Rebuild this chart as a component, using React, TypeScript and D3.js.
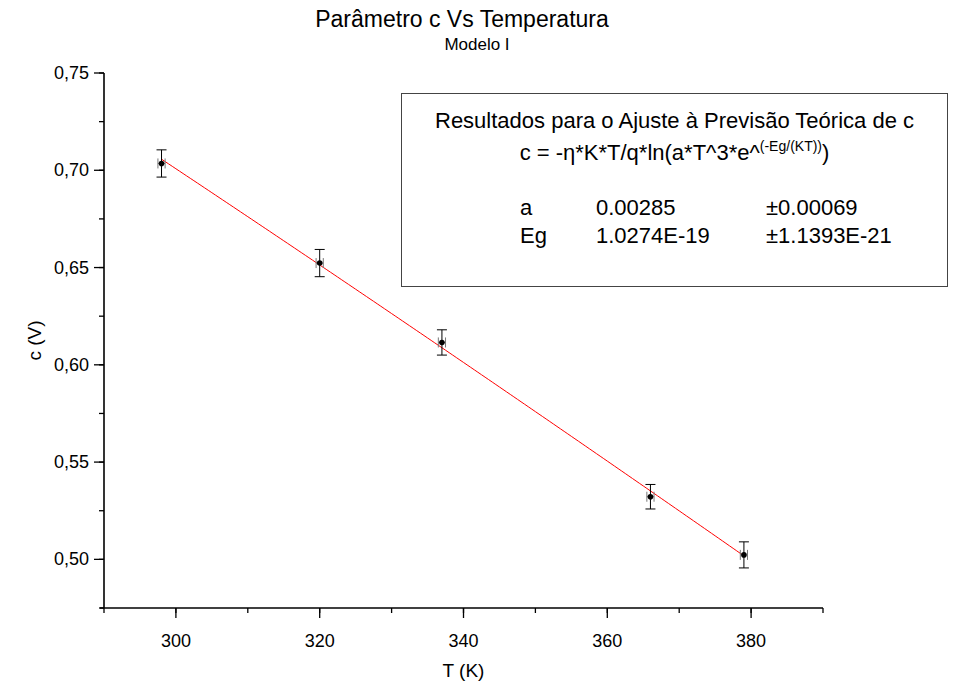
import React from "react";
import * as d3 from "d3";

// Measured points: temperature (K) and parameter c (V) with uncertainties
const temperatures = [298, 320, 337, 366, 379];
const cValues = [0.7035, 0.6523, 0.6115, 0.5322, 0.5023];
const cErrors = [0.007, 0.007, 0.0065, 0.0063, 0.0067];
const tErrors = [0.5, 0.5, 0.5, 0.5, 0.5];

// Fit results shown in the results box
const fitParamNames = ["a", "Eg"];
const fitParamValues = ["0.00285", "1.0274E-19"];
const fitParamErrors = ["±0.00069", "±1.1393E-21"];
const fitA = 0.00285;
const fitEg = 1.0274e-19;
const eta = 2;
const kBoltzmann = 1.380649e-23;
const qCharge = 1.602177e-19;

const xTicks = [300, 320, 340, 360, 380];
const yTicks = [0.5, 0.55, 0.6, 0.65, 0.7, 0.75];

const W = 960;
const H = 692;
const FONT = "'Liberation Sans', Arial, Helvetica, sans-serif";

// c = -η*K*T/q*ln(a*T^3*e^(-Eg/(KT)))
const fitModel = (T: number) =>
  ((-eta * kBoltzmann * T) / qCharge) *
  Math.log(fitA * T ** 3 * Math.exp(-fitEg / (kBoltzmann * T)));

export default function App() {
  const x = d3.scaleLinear().domain([290, 390]).range([104, 823]);
  const y = d3.scaleLinear().domain([0.475, 0.75]).range([608, 73]);

  const xMinor = d3.range(290, 391, 10);
  const yMinor = d3.range(0, 12).map((i) => 0.475 + i * 0.025);

  const fitT = d3.range(temperatures[0], temperatures[temperatures.length - 1] + 0.001, 0.5);
  const fitLine = d3
    .line<number>()
    .x((t) => x(t))
    .y((t) => y(fitModel(t)))(fitT);

  const fmtY = (v: number) => v.toFixed(2).replace(".", ",");
  const x0 = x.range()[0];
  const y0 = y.range()[0];

  const boxX = 401.5;
  const boxW = 546;
  const boxCx = boxX + boxW / 2;
  const legendSize = 22;

  return (
    <svg
      width={W}
      height={H}
      style={{ position: "absolute", left: 0, top: 0, background: "#fff" }}
      fontFamily={FONT}
    >
      <rect width={W} height={H} fill="#fff" />
      {/* titles */}
      <text x={462} y={27} textAnchor="middle" fontSize={23}>
        Parâmetro c Vs Temperatura
      </text>
      <text x={477} y={50} textAnchor="middle" fontSize={17}>
        Modelo I
      </text>

      {/* y axis */}
      <line x1={x0} x2={x0} y1={y(0.75)} y2={y0} stroke="#000" strokeWidth={1.6} />
      {yMinor.map((v) => (
        <line key={"ym" + v} x1={x0 - 5} x2={x0} y1={y(v)} y2={y(v)} stroke="#000" strokeWidth={1.3} />
      ))}
      {yTicks.map((v) => (
        <g key={"y" + v}>
          <line x1={x0 - 10} x2={x0} y1={y(v)} y2={y(v)} stroke="#000" strokeWidth={1.3} />
          <text x={x0 - 15} y={y(v) + 6} textAnchor="end" fontSize={18}>
            {fmtY(v)}
          </text>
        </g>
      ))}
      <text
        transform={`translate(41,${(y(0.75) + y0) / 2}) rotate(-90)`}
        textAnchor="middle"
        fontSize={19}
      >
        c (V)
      </text>

      {/* x axis */}
      <line x1={x0 - 4} x2={x.range()[1]} y1={y0} y2={y0} stroke="#000" strokeWidth={1.6} />
      {xMinor.map((v) => (
        <line key={"xm" + v} x1={x(v)} x2={x(v)} y1={y0} y2={y0 + 5} stroke="#000" strokeWidth={1.3} />
      ))}
      {xTicks.map((v) => (
        <g key={"x" + v}>
          <line x1={x(v)} x2={x(v)} y1={y0} y2={y0 + 10} stroke="#000" strokeWidth={1.3} />
          <text x={x(v)} y={y0 + 39} textAnchor="middle" fontSize={18}>
            {v}
          </text>
        </g>
      ))}
      <text x={(x0 + x.range()[1]) / 2} y={677} textAnchor="middle" fontSize={19}>
        T (K)
      </text>

      {/* fit curve */}
      <path d={fitLine ?? ""} fill="none" stroke="#ff0000" strokeWidth={1} />

      {/* data points with error bars */}
      {temperatures.map((t, i) => {
        const px = x(t);
        const py = y(cValues[i]);
        const yt = y(cValues[i] + cErrors[i]);
        const yb = y(cValues[i] - cErrors[i]);
        const xl = x(t - tErrors[i]);
        const xr = x(t + tErrors[i]);
        return (
          <g key={"p" + i}>
            <line x1={xl} x2={xr} y1={py} y2={py} stroke="#777" strokeWidth={1} />
            <line x1={xl} x2={xl} y1={py - 5} y2={py + 5} stroke="#777" strokeWidth={1} />
            <line x1={xr} x2={xr} y1={py - 5} y2={py + 5} stroke="#777" strokeWidth={1} />
            <line x1={px} x2={px} y1={yt} y2={yb} stroke="#000" strokeWidth={1} />
            <line x1={px - 5} x2={px + 5} y1={yt} y2={yt} stroke="#000" strokeWidth={1} />
            <line x1={px - 5} x2={px + 5} y1={yb} y2={yb} stroke="#000" strokeWidth={1} />
            <circle cx={px} cy={py} r={2.8} fill="#000" />
          </g>
        );
      })}

      {/* results box */}
      <rect x={boxX} y={93.5} width={boxW} height={193} fill="#fff" stroke="#444" strokeWidth={1} />
      <text x={boxCx} y={128} textAnchor="middle" fontSize={legendSize}>
        Resultados para o Ajuste à Previsão Teórica de c
      </text>
      <text x={boxCx} y={160} textAnchor="middle" fontSize={legendSize}>
        c = -η*K*T/q*ln(a*T^3*e^
        <tspan dy={-9} fontSize={14}>
          (-Eg/(KT))
        </tspan>
        <tspan dy={9} fontSize={legendSize}>
          )
        </tspan>
      </text>
      {fitParamNames.map((n, i) => (
        <g key={"fp" + i} fontSize={legendSize}>
          <text x={520} y={215 + i * 28}>
            {n}
          </text>
          <text x={596} y={215 + i * 28}>
            {fitParamValues[i]}
          </text>
          <text x={766} y={215 + i * 28}>
            {fitParamErrors[i]}
          </text>
        </g>
      ))}
    </svg>
  );
}
